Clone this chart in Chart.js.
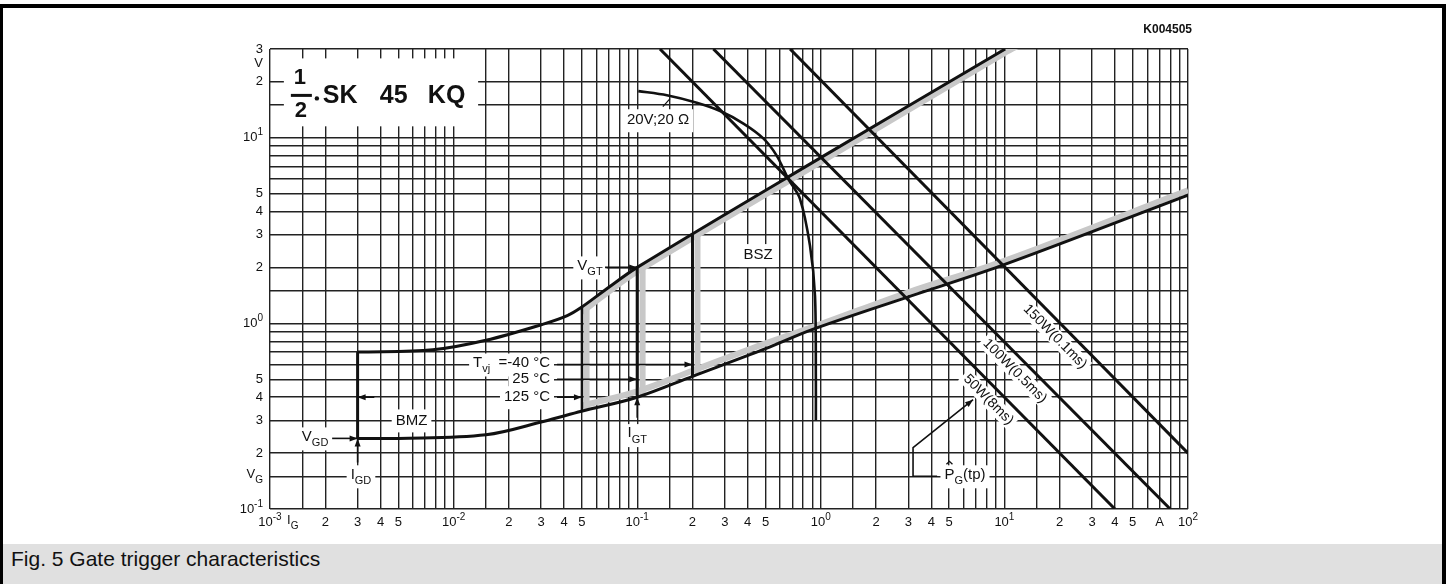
<!DOCTYPE html>
<html lang="en">
<head>
<meta charset="UTF-8">
<meta name="viewport" content="width=device-width, initial-scale=1.0">
<title>Fig. 5 Gate trigger characteristics</title>
<style>
    html, body { margin: 0; padding: 0; background: #fff; }
    body {
        width: 1450px;
        height: 584px;
        overflow: hidden;
        position: relative;
        font-family: 'Liberation Sans', Arial, Helvetica, sans-serif;
    }
    #sheet { position: absolute; left: 0; top: 0; }
    .caption {
        position: absolute;
        left: 3px;
        top: 544px;
        width: 1439px;
        height: 40px;
        background: #e0e0e0;
        color: #111;
        font-size: 21px;
        line-height: 30px;
        padding-left: 8px;
        box-sizing: border-box;
    }
    .frame {
        position: absolute;
        left: 0;
        top: 4px;
        width: 1439px;
        height: 600px;
        border-style: solid;
        border-color: #000;
        border-width: 4px 4px 0 3px;
        pointer-events: none;
    }
</style>
<script src="https://cdn.jsdelivr.net/npm/chart.js"></script>
</head>
<body>
<canvas id="sheet" width="1450" height="544"></canvas>
<div class="caption">Fig. 5 Gate trigger characteristics</div>
<div class="frame"></div>

<script>
    // axis ranges (I_G in A, V_G in V) and log grid
    const xMin = 0.001, xMax = 100;
    const yMin = 0.1, yMax = 30;
    const gridSteps = [1, 1.5, 2, 3, 4, 5, 6, 7, 8, 9];
    const xDecades = [0.001, 0.01, 0.1, 1, 10];
    const yDecades = [0.1, 1, 10];

    // tick labels
    const xTickValues = [0.001, 0.00133, 0.002, 0.003, 0.004, 0.005, 0.01, 0.02, 0.03, 0.04, 0.05, 0.1, 0.2, 0.3, 0.4, 0.5,
                         1, 2, 3, 4, 5, 10, 20, 30, 40, 50, 70, 100];
    const xTickLabels = ['10^{-3}', 'I_{G}', '2', '3', '4', '5', '10^{-2}', '2', '3', '4', '5', '10^{-1}', '2', '3', '4', '5',
                         '10^{0}', '2', '3', '4', '5', '10^{1}', '2', '3', '4', '5', 'A', '10^{2}'];
    const yTickValues = [30, 25, 20, 10, 5, 4, 3, 2, 1, 0.5, 0.4, 0.3, 0.2, 0.15, 0.1];
    const yTickLabels = ['3', 'V', '2', '10^{1}', '5', '4', '3', '2', '10^{0}', '5', '4', '3', '2', 'V_{G}', '10^{-1}'];

    // no-trigger edge at I_GD
    const gdEdgeI = [0.003, 0.003];
    const gdEdgeV = [0.24, 0.7];
    // upper limit of the trigger area
    const upperI = [0.003, 0.0077, 0.015, 0.0308, 0.0416, 0.0497, 0.068, 0.1, 1, 10.1];
    const upperV = [0.7, 0.72, 0.81, 0.99, 1.1, 1.22, 1.53, 2.0, 7.8, 30];
    // lower limit of the trigger area
    const lowerI = [0.003, 0.005, 0.015, 0.0308, 0.0497, 0.1, 0.202, 0.5, 0.911, 2.94, 9.46, 100];
    const lowerV = [0.24, 0.24, 0.251, 0.296, 0.336, 0.4, 0.52, 0.73, 0.93, 1.38, 2.03, 4.9];
    // 20V;20 ohm load line
    const loadI = [0.1014, 0.145, 0.211, 0.283, 0.379, 0.486, 0.575, 0.665, 0.77, 0.873, 0.93, 0.94, 0.94];
    const loadV = [17.8, 16.9, 15.4, 13.9, 11.9, 9.9, 8.0, 6.0, 4.68, 2.62, 1.4, 0.5, 0.3];
    // peak gate power lines
    const p50I = [0.133, 40];   const p50V = [30, 0.1];
    const p100I = [0.26, 80];   const p100V = [30, 0.1];
    const p150I = [0.68, 100];  const p150V = [30, 0.2];
    // I_GT verticals for 125, 25, -40 degC
    const igt125I = [0.05, 0.05]; const igt125V = [0.336, 1.22];
    const igt25I = [0.1, 0.1];    const igt25V = [0.4, 2.0];
    const igt40I = [0.2, 0.2];    const igt40V = [0.52, 3.0];
    // grey hatching along the edges of the safe trigger zone
    const upperShadeI = [0.05, 0.068, 0.1, 1, 10, 12.5];
    const upperShadeV = [1.15, 1.45, 1.9, 7.4, 28.5, 32];
    const lowerShadeI = [0.05, 0.1, 0.2, 0.5, 1, 3, 10, 100, 115];
    const lowerShadeV = [0.36, 0.43, 0.555, 0.78, 0.99, 1.47, 2.17, 5.2, 5.5];
    const shade125I = [0.053, 0.053]; const shade125V = [0.345, 1.2];
    const shade25I = [0.107, 0.107];  const shade25V = [0.41, 1.95];
    const shade40I = [0.213, 0.213];  const shade40V = [0.53, 2.95];

    const gridX = xDecades.flatMap(d => gridSteps.map(s => +(s * d).toPrecision(3))).concat([xMax]);
    const gridY = yDecades.flatMap(d => gridSteps.map(s => +(s * d).toPrecision(3))).filter(v => v < yMax).concat([yMax]);

    const pts = (xs, ys) => xs.map((x, i) => ({ x: x, y: ys[i] }));
    const INK = '#111';
    const GREY = '#c8c8c8';

    function line(xs, ys, width, tension) {
        return { data: pts(xs, ys), borderColor: INK, borderWidth: width, tension: tension || 0, order: 0 };
    }
    function shade(xs, ys, tension) {
        return { data: pts(xs, ys), borderColor: GREY, borderWidth: 6, tension: tension || 0, order: 5 };
    }

    // ---- text helpers ----
    const FONT = "'Liberation Sans', Arial, Helvetica, sans-serif";
    const NOTE = 15, AXIS = 13, DIAG = 14;
    function parseRich(s) {
        const out = [];
        const re = /([_^])\{([^}]*)\}/g;
        let last = 0, m;
        while ((m = re.exec(s))) {
            if (m.index > last) out.push({ t: s.slice(last, m.index), mode: 0 });
            out.push({ t: m[2], mode: m[1] === '_' ? 1 : 2 });
            last = re.lastIndex;
        }
        if (last < s.length) out.push({ t: s.slice(last), mode: 0 });
        return out;
    }
    function fontFor(mode, size, weight) {
        const sz = mode === 0 ? size : Math.round(size * 0.75);
        return (weight || 'normal') + ' ' + sz + 'px ' + FONT;
    }
    function richWidth(ctx, s, size, weight) {
        let w = 0;
        parseRich(s).forEach(p => { ctx.font = fontFor(p.mode, size, weight); w += ctx.measureText(p.t).width; });
        return w;
    }
    function drawRich(ctx, s, x, y, align, size, weight) {
        const parts = parseRich(s);
        const w = richWidth(ctx, s, size, weight);
        const left = align === 'center' ? x - w / 2 : align === 'right' ? x - w : x;
        let cx = left;
        const hasSub = parts.some(p => p.mode === 1);
        ctx.textAlign = 'left';
        ctx.textBaseline = 'middle';
        parts.forEach(p => {
            ctx.font = fontFor(p.mode, size, weight);
            let dy = hasSub ? -size * 0.12 : 0;
            if (p.mode === 1) dy = size * 0.3;
            if (p.mode === 2) dy = -size * 0.38;
            ctx.fillText(p.t, cx, y + dy);
            cx += ctx.measureText(p.t).width;
        });
        return { left: left, w: w };
    }
    function arrowHead(ctx, x1, y1, x2, y2) {
        const a = Math.atan2(y2 - y1, x2 - x1), L = 8, H = 3;
        ctx.beginPath();
        ctx.moveTo(x2, y2);
        ctx.lineTo(x2 - L * Math.cos(a) + H * Math.sin(a), y2 - L * Math.sin(a) - H * Math.cos(a));
        ctx.lineTo(x2 - L * Math.cos(a) - H * Math.sin(a), y2 - L * Math.sin(a) + H * Math.cos(a));
        ctx.closePath();
        ctx.fill();
    }

    // annotation placements, in data units
    const notes = [
        { t: 'BSZ', i: 0.455, v: 2.33 },
        { t: 'BMZ', i: 0.0059, v: 0.3 },
        { t: 'V_{GD}', i: 0.00176, v: 0.24 },
        { t: 'I_{GD}', i: 0.00313, v: 0.15 },
        { t: 'V_{GT}', i: 0.0553, v: 2 },
        { t: 'I_{GT}', i: 0.1, v: 0.25 },
        { t: 'T_{vj}  =-40 °C', i: 0.0335, v: 0.6, align: 'right' },
        { t: '25 °C', i: 0.0335, v: 0.5, align: 'right' },
        { t: '125 °C', i: 0.0335, v: 0.4, align: 'right' },
        { t: '20V;20 Ω', i: 0.13, v: 12.4 },
        { t: 'P_{G}(tp)', i: 6.1, v: 0.15, hat: true }
    ];
    const arrows = [
        [[0.00218, 0.24], [0.003, 0.24]],
        [[0.003, 0.178], [0.003, 0.24]],
        [[0.0037, 0.4], [0.003, 0.4]],
        [[0.0668, 2], [0.1, 2]],
        [[0.1, 0.31], [0.1, 0.4]],
        [[0.0366, 0.6], [0.2, 0.6]],
        [[0.0366, 0.5], [0.1, 0.5]],
        [[0.0366, 0.4], [0.05, 0.4]],
        [[4.3, 0.15], [3.18, 0.15], [3.18, 0.214], [6.75, 0.388]]
    ];
    const diagLabels = [
        { t: '150W(0.1ms)', I: p150I, V: p150V, at: 21.2 },
        { t: '100W(0.5ms)', I: p100I, V: p100V, at: 12.8 },
        { t: '50W(8ms)', I: p50I, V: p50V, at: 9.2 }
    ];
    function onLine(I, V, x) {
        const f = (Math.log(x) - Math.log(I[0])) / (Math.log(I[1]) - Math.log(I[0]));
        return Math.exp(Math.log(V[0]) + f * (Math.log(V[1]) - Math.log(V[0])));
    }
    function diagGeom(chart, d) {
        const sx = chart.scales.x, sy = chart.scales.y;
        const ang = Math.atan2(sy.getPixelForValue(d.V[1]) - sy.getPixelForValue(d.V[0]),
                               sx.getPixelForValue(d.I[1]) - sx.getPixelForValue(d.I[0]));
        const cx = sx.getPixelForValue(d.at), cy = sy.getPixelForValue(onLine(d.I, d.V, d.at));
        const off = 13;
        // push the label to the lower-left side of its line
        return { x: cx - off * Math.sin(ang), y: cy + off * Math.cos(ang), ang: ang };
    }

    const sheetLabels = {
        id: 'sheetLabels',
        beforeDatasetsDraw(chart) {
            const ctx = chart.ctx, sx = chart.scales.x, sy = chart.scales.y;
            ctx.save();
            ctx.fillStyle = '#fff';
            // title box
            const tx = sx.getPixelForValue(0.00119), ty = sy.getPixelForValue(26.7);
            ctx.fillRect(tx, ty, sx.getPixelForValue(0.0136) - tx, sy.getPixelForValue(11.5) - ty);
            notes.forEach(n => {
                const w = richWidth(ctx, n.t, NOTE);
                const x = sx.getPixelForValue(n.i), y = sy.getPixelForValue(n.v);
                const left = n.align === 'right' ? x - w : x - w / 2;
                ctx.fillRect(left - 4, y - 11, w + 8, 23);
            });
            diagLabels.forEach(d => {
                const g = diagGeom(chart, d);
                ctx.font = 'normal ' + DIAG + 'px ' + FONT;
                const w = ctx.measureText(d.t).width;
                ctx.save();
                ctx.translate(g.x, g.y);
                ctx.rotate(g.ang);
                ctx.fillRect(-w / 2 - 3, -8, w + 6, 16);
                ctx.restore();
            });
            ctx.restore();
        },
        afterDatasetsDraw(chart) {
            const ctx = chart.ctx, sx = chart.scales.x, sy = chart.scales.y;
            const X = v => sx.getPixelForValue(v), Y = v => sy.getPixelForValue(v);
            ctx.save();
            ctx.fillStyle = INK;
            ctx.strokeStyle = INK;
            ctx.lineWidth = 1.6;
            arrows.forEach(a => {
                ctx.beginPath();
                a.forEach((p, k) => k ? ctx.lineTo(X(p[0]), Y(p[1])) : ctx.moveTo(X(p[0]), Y(p[1])));
                ctx.stroke();
                const p1 = a[a.length - 2], p2 = a[a.length - 1];
                arrowHead(ctx, X(p1[0]), Y(p1[1]), X(p2[0]), Y(p2[1]));
            });
            notes.forEach(n => {
                const r = drawRich(ctx, n.t, X(n.i), Y(n.v), n.align || 'center', NOTE);
                if (n.hat) {
                    ctx.beginPath();
                    ctx.lineWidth = 1.3;
                    ctx.moveTo(r.left + 2, Y(n.v) - 12);
                    ctx.lineTo(r.left + 5, Y(n.v) - 15);
                    ctx.lineTo(r.left + 8, Y(n.v) - 12);
                    ctx.stroke();
                }
            });
            // leader from the 20V;20 ohm label to its curve
            ctx.lineWidth = 1.2;
            ctx.beginPath();
            ctx.moveTo(X(0.138), Y(14.7));
            ctx.lineTo(X(0.151), Y(16.2));
            ctx.stroke();
            diagLabels.forEach(d => {
                const g = diagGeom(chart, d);
                ctx.save();
                ctx.translate(g.x, g.y);
                ctx.rotate(g.ang);
                ctx.font = 'normal ' + DIAG + 'px ' + FONT;
                ctx.textAlign = 'center';
                ctx.textBaseline = 'middle';
                ctx.fillText(d.t, 0, 0);
                ctx.restore();
            });
            // type designation
            const tx = X(0.00119), ty = Y(26.7);
            ctx.textAlign = 'center';
            ctx.textBaseline = 'middle';
            ctx.font = 'bold 22px ' + FONT;
            ctx.fillText('1', tx + 16, ty + 20);
            ctx.fillText('2', tx + 17, ty + 53);
            ctx.lineWidth = 3;
            ctx.beginPath();
            ctx.moveTo(tx + 7, ty + 37);
            ctx.lineTo(tx + 28, ty + 37);
            ctx.stroke();
            ctx.beginPath();
            ctx.arc(tx + 33, ty + 40, 2.2, 0, Math.PI * 2);
            ctx.fill();
            ctx.textAlign = 'left';
            ctx.textBaseline = 'alphabetic';
            ctx.font = 'bold 25px ' + FONT;
            ctx.fillText('SK', tx + 39, ty + 45);
            ctx.fillText('45', tx + 96, ty + 45);
            ctx.fillText('KQ', tx + 144, ty + 45);
            ctx.restore();
        },
        afterDraw(chart) {
            const ctx = chart.ctx, sx = chart.scales.x, sy = chart.scales.y, area = chart.chartArea;
            ctx.save();
            ctx.fillStyle = INK;
            xTickValues.forEach((v, k) => drawRich(ctx, xTickLabels[k], sx.getPixelForValue(v), area.bottom + 13, 'center', AXIS));
            yTickValues.forEach((v, k) => drawRich(ctx, yTickLabels[k], area.left - 7, sy.getPixelForValue(v), 'right', AXIS));
            ctx.font = 'bold 12px ' + FONT;
            ctx.textAlign = 'right';
            ctx.textBaseline = 'middle';
            ctx.fillText('K004505', area.right + 4, area.top - 19);
            ctx.restore();
        }
    };

    const logAxis = (min, max, ticks, isX) => ({
        type: 'logarithmic',
        min: min,
        max: max,
        ticks: { display: false },
        border: { display: false },
        grid: { color: '#222', lineWidth: 1.4, drawTicks: false },
        afterBuildTicks: s => { s.ticks = ticks.map(v => ({ value: v })); },
        afterFit: s => { if (isX) s.height = 0; else s.width = 0; }
    });

    new Chart(document.getElementById('sheet'), {
        type: 'scatter',
        data: {
            datasets: [
                line(gdEdgeI, gdEdgeV, 3),
                line(upperI, upperV, 3, 0.35),
                line(lowerI, lowerV, 3, 0.35),
                line(loadI, loadV, 2.6, 0.3),
                line(p50I, p50V, 3),
                line(p100I, p100V, 3),
                line(p150I, p150V, 3),
                line(igt125I, igt125V, 2.5),
                line(igt25I, igt25V, 3),
                line(igt40I, igt40V, 3),
                shade(upperShadeI, upperShadeV, 0.35),
                shade(lowerShadeI, lowerShadeV, 0.35),
                shade(shade125I, shade125V),
                shade(shade25I, shade25V),
                shade(shade40I, shade40V)
            ].map(d => Object.assign(d, { showLine: true, pointRadius: 0, fill: false }))
        },
        options: {
            responsive: false,
            animation: false,
            layout: { padding: { left: 270, right: 262, top: 49, bottom: 35 } },
            plugins: { legend: { display: false }, tooltip: { enabled: false } },
            scales: {
                x: logAxis(xMin, xMax, gridX, true),
                y: logAxis(yMin, yMax, gridY, false)
            }
        },
        plugins: [sheetLabels]
    });
</script>
</body>
</html>
